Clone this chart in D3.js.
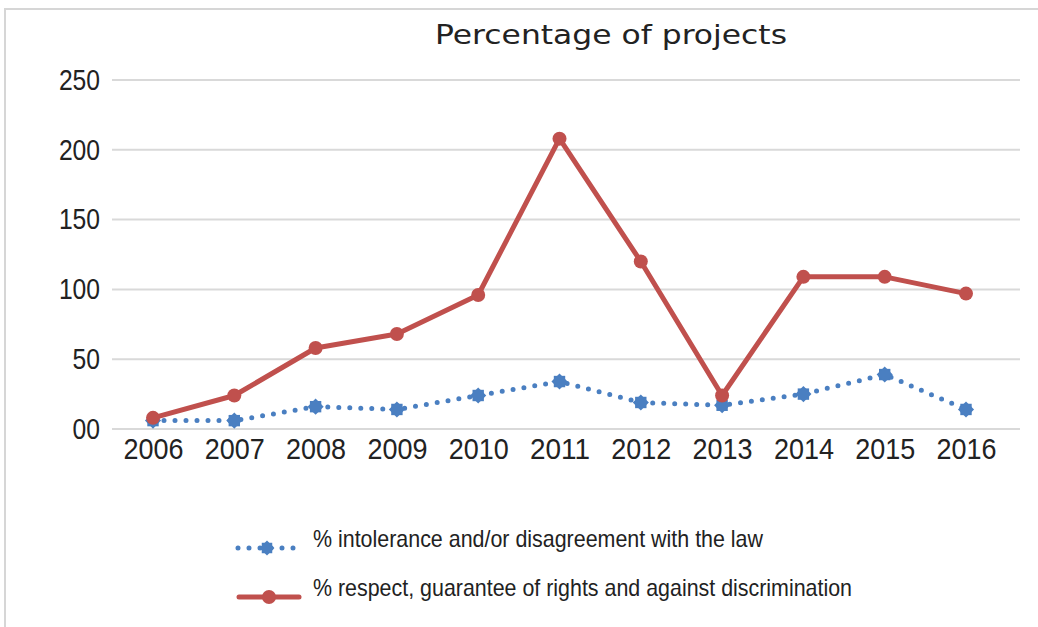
<!DOCTYPE html>
<html>
<head>
<meta charset="utf-8">
<script src="https://cdn.jsdelivr.net/npm/d3@7"></script>
<style>
  body { margin: 0; background: #fff; }
  #container { width: 1038px; height: 627px; }
</style>
</head>
<body>
<div id="container"></div>
<script>
// Data
const years = ["2006", "2007", "2008", "2009", "2010", "2011", "2012", "2013", "2014", "2015", "2016"];
const intolerance = [6, 6, 16, 14, 24, 34, 19, 17, 25, 39, 14];
const respect = [8, 24, 58, 68, 96, 208, 120, 24, 109, 109, 97];
const yTicks = [0, 50, 100, 150, 200, 250];
const yTickLabels = ["00", "50", "100", "150", "200", "250"];
const seriesNames = [
  "% intolerance and/or disagreement with the law",
  "% respect, guarantee of rights and against discrimination"
];

const width = 1038, height = 627;
const font = "'Liberation Sans', Arial, sans-serif";
const blue = "#4a7fc1", red = "#c0504d", grid = "#d9d9d9";

const svg = d3.select("#container")
  .append("svg")
  .attr("width", width)
  .attr("height", height);

// outer frame (top and left edges visible)
svg.append("path")
  .attr("d", `M5,${height} V9 H${width}`)
  .attr("fill", "none")
  .attr("stroke", "#d6d6d6")
  .attr("stroke-width", 2);

// title
svg.append("text")
  .attr("x", 611)
  .attr("y", 44)
  .attr("text-anchor", "middle")
  .attr("textLength", 352)
  .attr("lengthAdjust", "spacingAndGlyphs")
  .style("font-family", "'DejaVu Sans', sans-serif")
  .style("font-size", "27px")
  .style("fill", "#222")
  .text("Percentage of projects");

const x = d3.scalePoint().domain(years).range([153, 966]);
const y = d3.scaleLinear().domain([0, 250]).range([429, 80]);

// gridlines
svg.append("g")
  .selectAll("line")
  .data(yTicks)
  .join("line")
  .attr("x1", 112)
  .attr("x2", 1020)
  .attr("y1", d => y(d))
  .attr("y2", d => y(d))
  .attr("stroke", grid)
  .attr("stroke-width", 2);

// y axis labels (condensed look via textLength)
const yAxis = svg.append("g")
  .attr("transform", "translate(100,0)")
  .call(d3.axisLeft(y).tickValues(yTicks).tickSize(0).tickPadding(0)
    .tickFormat((d, i) => yTickLabels[i]));
yAxis.select(".domain").remove();
yAxis.selectAll("text")
  .attr("textLength", function() { return this.textContent.length * 13.7; })
  .attr("lengthAdjust", "spacingAndGlyphs")
  .style("font-family", font)
  .style("font-size", "29px")
  .style("fill", "#222");

// x axis labels
const xAxis = svg.append("g")
  .attr("transform", "translate(0,429)")
  .call(d3.axisBottom(x).tickSize(0).tickPadding(9));
xAxis.select(".domain").remove();
xAxis.selectAll("text")
  .attr("textLength", 60)
  .attr("lengthAdjust", "spacingAndGlyphs")
  .style("font-family", font)
  .style("font-size", "30px")
  .style("fill", "#222");

const line = d3.line()
  .x((d, i) => x(years[i]))
  .y(d => y(d));

// blue dotted series
svg.append("path")
  .datum(intolerance)
  .attr("d", line)
  .attr("fill", "none")
  .attr("stroke", blue)
  .attr("stroke-width", 5)
  .attr("stroke-linecap", "round")
  .attr("stroke-dasharray", "0,11");

const star = svg.append("g")
  .selectAll("g")
  .data(intolerance)
  .join("g")
  .attr("transform", (d, i) => `translate(${x(years[i])},${y(d)})`);
star.append("path")
  .attr("d", d3.symbol(d3.symbolSquare, 130))
  .attr("fill", blue);
star.append("path")
  .attr("d", d3.symbol(d3.symbolSquare, 130))
  .attr("transform", "rotate(45)")
  .attr("fill", blue);

// red solid series
svg.append("path")
  .datum(respect)
  .attr("d", line)
  .attr("fill", "none")
  .attr("stroke", red)
  .attr("stroke-width", 5)
  .attr("stroke-linejoin", "round");

svg.append("g")
  .selectAll("circle")
  .data(respect)
  .join("circle")
  .attr("cx", (d, i) => x(years[i]))
  .attr("cy", d => y(d))
  .attr("r", 7)
  .attr("fill", red);

// legend
const legend = svg.append("g");
const ly = [548, 597];
const legendWidths = [450, 539];

legend.append("line")
  .attr("x1", 238).attr("x2", 298)
  .attr("y1", ly[0]).attr("y2", ly[0])
  .attr("stroke", blue)
  .attr("stroke-width", 5)
  .attr("stroke-linecap", "round")
  .attr("stroke-dasharray", "0,11");
const ls = legend.append("g").attr("transform", `translate(267,${ly[0]})`);
ls.append("path").attr("d", d3.symbol(d3.symbolSquare, 110)).attr("fill", blue);
ls.append("path").attr("d", d3.symbol(d3.symbolSquare, 110)).attr("transform", "rotate(45)").attr("fill", blue);

legend.append("line")
  .attr("x1", 239).attr("x2", 299)
  .attr("y1", ly[1]).attr("y2", ly[1])
  .attr("stroke", red)
  .attr("stroke-width", 5)
  .attr("stroke-linecap", "round");
legend.append("circle")
  .attr("cx", 269).attr("cy", ly[1]).attr("r", 7).attr("fill", red);

legend.selectAll("text")
  .data(seriesNames)
  .join("text")
  .attr("x", 313)
  .attr("y", (d, i) => ly[i] - 1)
  .attr("textLength", (d, i) => legendWidths[i])
  .attr("lengthAdjust", "spacingAndGlyphs")
  .style("font-family", font)
  .style("font-size", "24px")
  .style("fill", "#222")
  .text(d => d);
</script>
</body>
</html>
